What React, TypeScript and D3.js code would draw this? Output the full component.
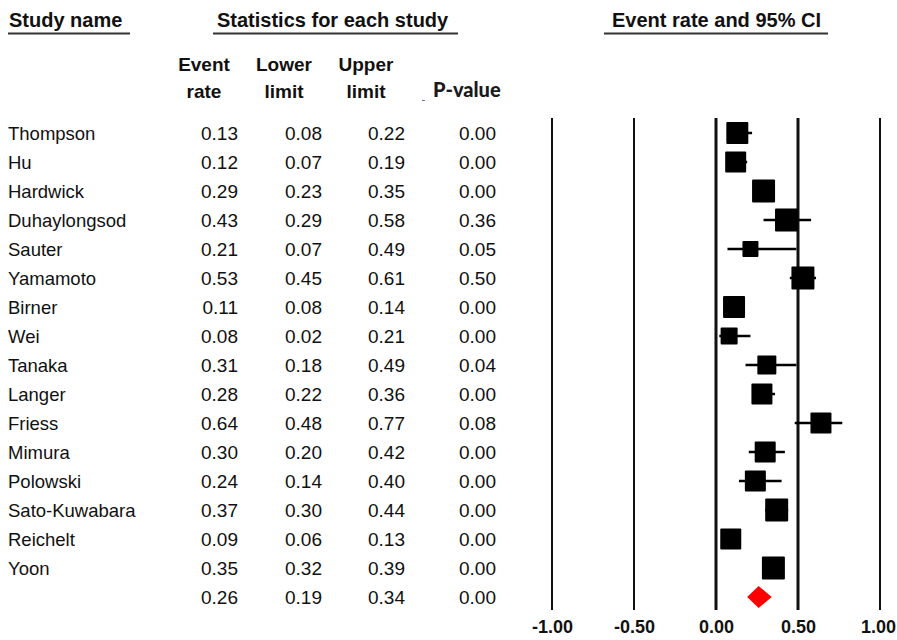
import React, { useRef, useEffect } from "react";
import * as d3 from "d3";

const studies = [
  "Thompson", "Hu", "Hardwick", "Duhaylongsod", "Sauter", "Yamamoto", "Birner", "Wei",
  "Tanaka", "Langer", "Friess", "Mimura", "Polowski", "Sato-Kuwabara", "Reichelt", "Yoon",
];
const eventRate = [0.13, 0.12, 0.29, 0.43, 0.21, 0.53, 0.11, 0.08, 0.31, 0.28, 0.64, 0.30, 0.24, 0.37, 0.09, 0.35];
const lowerLimit = [0.08, 0.07, 0.23, 0.29, 0.07, 0.45, 0.08, 0.02, 0.18, 0.22, 0.48, 0.20, 0.14, 0.30, 0.06, 0.32];
const upperLimit = [0.22, 0.19, 0.35, 0.58, 0.49, 0.61, 0.14, 0.21, 0.49, 0.36, 0.77, 0.42, 0.40, 0.44, 0.13, 0.39];
const pValue = [0.00, 0.00, 0.00, 0.36, 0.05, 0.50, 0.00, 0.00, 0.04, 0.00, 0.08, 0.00, 0.00, 0.00, 0.00, 0.00];
// relative study weight (drives square size)
const weight = [22, 21, 23, 23, 16, 23, 22, 17, 19, 21, 21, 21, 21, 23, 21, 23];
const summary = { rate: 0.26, lower: 0.19, upper: 0.34, p: 0.00 };
const ticks = [-1, -0.5, 0, 0.5, 1];

const W = 897;
const H = 640;
const FONT = "Arial, 'Liberation Sans', sans-serif";

const ForestPlot = () => {
  const ref = useRef<SVGSVGElement>(null);

  useEffect(() => {
    if (!ref.current) return;
    const svg = d3.select(ref.current);
    svg.selectAll("*").remove();

    const x = d3.scaleLinear().domain([-1, 1]).range([552, 880]);
    const rows = [...studies, "__summary"];
    const y = d3.scalePoint<string>().domain(rows).range([133, 597]);
    const size = d3.scaleLinear().domain([0, 23]).range([0, 23]);
    const fmt = d3.format(".2f");

    // section headers
    const headers = [
      { text: "Study name", x: 9, x1: 8, x2: 130 },
      { text: "Statistics for each study", x: 217, x1: 213, x2: 458 },
      { text: "Event rate and 95% CI", x: 612, x1: 604, x2: 828 },
    ];
    headers.forEach((h) => {
      svg.append("text")
        .attr("x", h.x).attr("y", 27)
        .style("font-family", FONT).style("font-size", "20px").style("font-weight", "bold")
        .style("fill", "#111")
        .text(h.text);
      svg.append("line")
        .attr("x1", h.x1).attr("x2", h.x2).attr("y1", 33.5).attr("y2", 33.5)
        .attr("stroke", "#333").attr("stroke-width", 2);
    });

    // column headers
    const cols = [
      { top: "Event", bottom: "rate", cx: 204 },
      { top: "Lower", bottom: "limit", cx: 284 },
      { top: "Upper", bottom: "limit", cx: 366 },
    ];
    cols.forEach((c) => {
      [c.top, c.bottom].forEach((t, i) => {
        svg.append("text")
          .attr("x", c.cx).attr("y", i === 0 ? 71 : 98)
          .attr("text-anchor", "middle")
          .style("font-family", FONT).style("font-size", "19px").style("font-weight", "bold")
          .style("fill", "#111")
          .text(t);
      });
    });
    svg.append("text")
      .attr("x", 433).attr("y", 97)
      .style("font-family", "Lato, 'Open Sans', sans-serif").style("font-size", "20px").style("font-weight", "900")
      .style("fill", "#1a1a1a")
      .text("P-value");
    svg.append("line")
      .attr("x1", 422).attr("x2", 425).attr("y1", 100.5).attr("y2", 100.5)
      .attr("stroke", "#6a7fa8").attr("stroke-width", 1);

    // table body
    const tableRows = studies.map((s, i) => ({
      name: s, vals: [eventRate[i], lowerLimit[i], upperLimit[i], pValue[i]], key: s,
    }));
    tableRows.push({ name: "", vals: [summary.rate, summary.lower, summary.upper, summary.p], key: "__summary" });
    const rights = [238, 322, 405, 496];

    tableRows.forEach((r) => {
      const cy = y(r.key)!;
      if (r.name) {
        svg.append("text")
          .attr("x", 8).attr("y", cy).attr("dy", "0.36em")
          .style("font-family", FONT).style("font-size", "18.5px").style("fill", "#111")
          .text(r.name);
      }
      r.vals.forEach((v, j) => {
        svg.append("text")
          .attr("x", rights[j]).attr("y", cy).attr("dy", "0.36em")
          .attr("text-anchor", "end")
          .style("font-family", FONT).style("font-size", "19px").style("fill", "#111")
          .text(fmt(v));
      });
    });

    // reference lines
    svg.append("g")
      .selectAll("line")
      .data(ticks)
      .enter().append("line")
      .attr("x1", (d) => x(d)).attr("x2", (d) => x(d))
      .attr("y1", 118).attr("y2", 610)
      .attr("stroke", "#111")
      .attr("stroke-width", (d) => (d === 0 || d === 0.5 ? 3 : 2));

    // CI whiskers
    svg.append("g")
      .selectAll("line")
      .data(studies)
      .enter().append("line")
      .attr("x1", (d, i) => x(lowerLimit[i])).attr("x2", (d, i) => x(upperLimit[i]))
      .attr("y1", (d) => y(d)!).attr("y2", (d) => y(d)!)
      .attr("stroke", "#000").attr("stroke-width", 2.5);

    // squares
    svg.append("g")
      .selectAll("rect")
      .data(studies)
      .enter().append("rect")
      .attr("x", (d, i) => x(eventRate[i]) - size(weight[i]) / 2)
      .attr("y", (d, i) => y(d)! - size(weight[i]) / 2)
      .attr("width", (d, i) => size(weight[i]))
      .attr("height", (d, i) => size(weight[i]))
      .attr("rx", 1)
      .attr("fill", "#000");

    // summary diamond
    const sy = y("__summary")!;
    const diamond = d3.line()([
      [x(summary.lower), sy],
      [x(summary.rate), sy - 11],
      [x(summary.upper), sy],
      [x(summary.rate), sy + 11],
    ]) + "Z";
    svg.append("path").attr("d", diamond).attr("fill", "#ff0000");

    // axis labels (plain hyphen for negatives, as in the source)
    const axis = svg.append("g")
      .attr("transform", "translate(0,617)")
      .call(d3.axisBottom(x).tickValues(ticks).tickSize(0)
        .tickFormat((d) => fmt(d as number).replace("\u2212", "-")));
    axis.select(".domain").remove();
    axis.selectAll("text")
      .attr("dy", "0.71em")
      .attr("dx", (d) => ((d as number) === 1 ? -2 : 0))
      .style("font-family", FONT).style("font-size", "18px").style("font-weight", "bold")
      .style("fill", "#111");
  }, []);

  return <svg ref={ref} width={W} height={H} style={{ display: "block" }}></svg>;
};

export default function App() {
  return (
    <div style={{ position: "absolute", left: 0, top: 0, background: "#fff" }}>
      <ForestPlot />
    </div>
  );
}
